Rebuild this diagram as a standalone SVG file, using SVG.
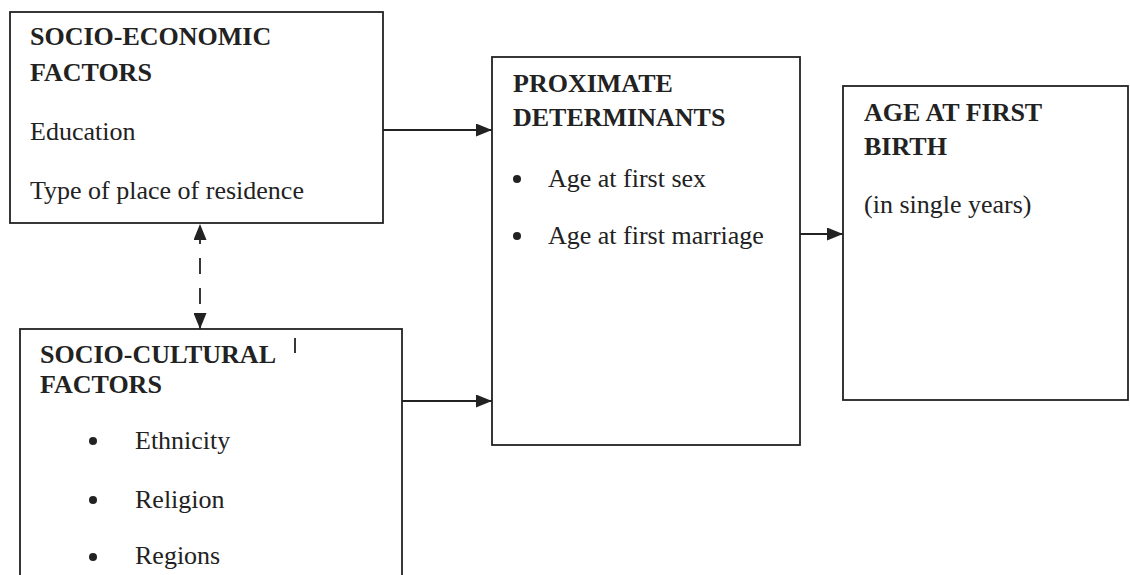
<svg xmlns="http://www.w3.org/2000/svg" width="1130" height="575" viewBox="0 0 1130 575">
<style>
.box{fill:none;stroke:#222;stroke-width:1.8}
.h{font-family:"Liberation Serif",serif;font-weight:bold;font-size:26px;fill:#222}
.t{font-family:"Liberation Serif",serif;font-size:26px;fill:#222}
.c{stroke:#222;stroke-width:1.8;fill:none}
</style>
<defs>
<marker id="ah" viewBox="0 0 16 13" refX="16" refY="6.5" markerWidth="16" markerHeight="13" markerUnits="userSpaceOnUse" orient="auto-start-reverse">
<path d="M0,0 L16,6.5 L0,13 Z" fill="#222"/>
</marker>
</defs>
<rect width="1130" height="575" fill="#fff"/>
<g id="socio-economic">
<rect class="box" x="10" y="12" width="373" height="211"/>
<text class="h" x="30" y="45">SOCIO-ECONOMIC</text>
<text class="h" x="30" y="81">FACTORS</text>
<text class="t" x="30" y="140">Education</text>
<text class="t" x="30" y="199">Type of place of residence</text>
</g>
<g id="socio-cultural">
<rect class="box" x="20" y="329" width="382" height="260"/>
<text class="h" x="40" y="363">SOCIO-CULTURAL</text>
<line class="c" x1="295" y1="338" x2="295" y2="353" stroke-width="1.2"/>
<text class="h" x="40" y="393">FACTORS</text>
<circle cx="93" cy="441" r="4" fill="#222"/>
<text class="t" x="135" y="449">Ethnicity</text>
<circle cx="93" cy="500" r="4" fill="#222"/>
<text class="t" x="135" y="508">Religion</text>
<circle cx="93" cy="557" r="4" fill="#222"/>
<text class="t" x="135" y="564">Regions</text>
</g>
<g id="proximate">
<rect class="box" x="492" y="57" width="308" height="388"/>
<text class="h" x="513" y="92">PROXIMATE</text>
<text class="h" x="513" y="126">DETERMINANTS</text>
<circle cx="517" cy="179" r="4" fill="#222"/>
<text class="t" x="548" y="187">Age at first sex</text>
<circle cx="517" cy="236" r="4" fill="#222"/>
<text class="t" x="548" y="244">Age at first marriage</text>
</g>
<g id="first-birth">
<rect class="box" x="843" y="86" width="285" height="314"/>
<text class="h" x="864" y="121">AGE AT FIRST</text>
<text class="h" x="864" y="155">BIRTH</text>
<text class="t" x="864" y="213">(in single years)</text>
</g>
<g id="connectors">
<line class="c" x1="383" y1="130" x2="492" y2="130" marker-end="url(#ah)"/>
<line class="c" x1="402" y1="401" x2="492" y2="401" marker-end="url(#ah)"/>
<line class="c" x1="800" y1="234" x2="843" y2="234" marker-end="url(#ah)"/>
<line class="c" x1="200" y1="224" x2="200" y2="329" stroke-dasharray="16,14" stroke-dashoffset="-4" marker-start="url(#ah)" marker-end="url(#ah)"/>
</g>
</svg>
